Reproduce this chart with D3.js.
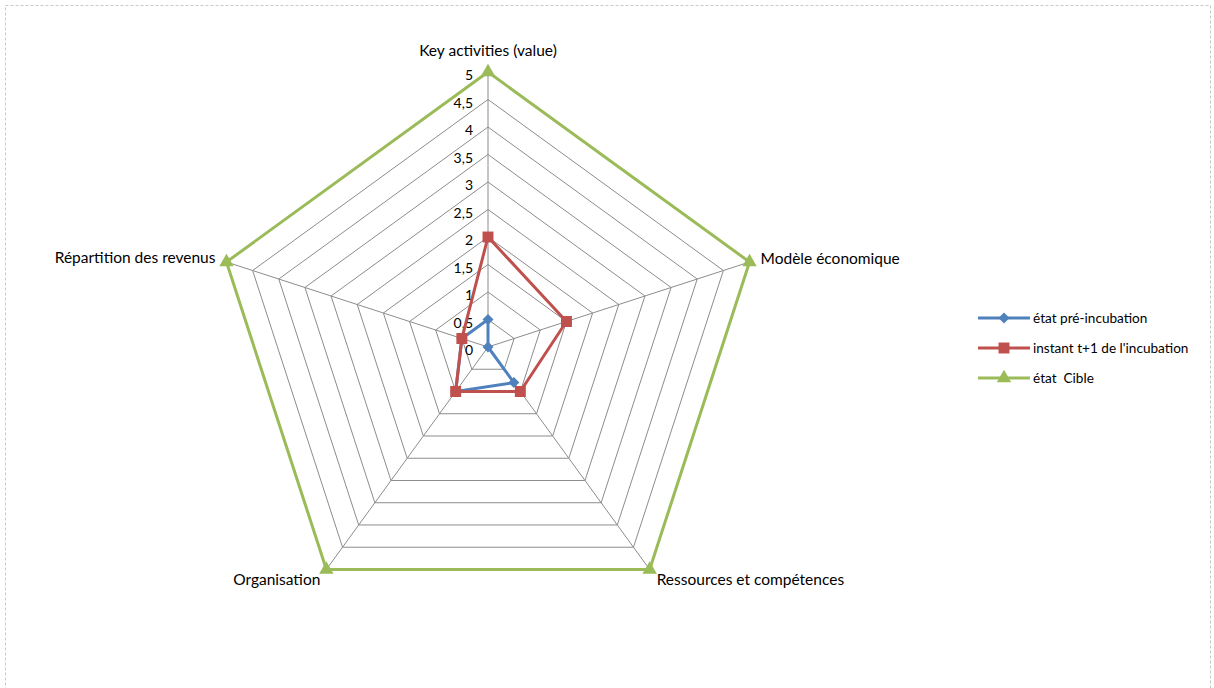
<!DOCTYPE html>
<html>
<head>
<meta charset="utf-8">
<script src="https://cdn.jsdelivr.net/npm/d3@7"></script>
<style>
  body { margin: 0; background: #fff; }
  svg { display: block; font-family: Lato, "Noto Sans", sans-serif; }
</style>
</head>
<body>
<svg id="chart" width="1214" height="688"></svg>
<script>
// axes, clockwise from the top
var axes = ['Key activities (value)', 'Modèle économique', 'Ressources et compétences', 'Organisation', 'Répartition des revenus'];
var ticks = [0, 0.5, 1, 1.5, 2, 2.5, 3, 3.5, 4, 4.5, 5];
var seriesNames = ['état pré-incubation', "instant t+1 de l'incubation", 'état  Cible'];
var preIncubation = [0.5, 0, 0.8, 1, 0.5];
var instantT1 = [2, 1.5, 1, 1, 0.5];
var cible = [5, 5, 5, 5, 5];

var colors = ['#4F81BD', '#C0504D', '#9BBB59'];
var shapes = [d3.symbolSquare, d3.symbolSquare, d3.symbolTriangle];
var sizes = [60, 120, 90];
var rotations = [45, 0, 0];

var svg = d3.select('#chart');
var cx = 488, cy = 347;

// dashed chart-area border
svg.append('rect')
  .attr('x', 5.5).attr('y', 5.5)
  .attr('width', 1205).attr('height', 690)
  .attr('fill', 'none')
  .attr('stroke', '#c8c8c8')
  .attr('stroke-dasharray', '3,2');

var r = d3.scaleLinear().domain([0, 5]).range([0, 275]);
var angle = d3.scaleLinear().domain([0, axes.length]).range([0, 2 * Math.PI]);

function pt(i, v) {
  var a = angle(i);
  return [cx + r(v) * Math.sin(a), cy - r(v) * Math.cos(a)];
}

var g = svg.append('g');

// rings
ticks.slice(1).forEach(function (t) {
  g.append('polygon')
    .attr('points', axes.map(function (d, i) { return pt(i, t).join(','); }).join(' '))
    .attr('fill', 'none')
    .attr('stroke', '#8c8c8c')
    .attr('stroke-width', 1);
});

// spokes
axes.forEach(function (d, i) {
  var p = pt(i, 5);
  g.append('line')
    .attr('x1', cx).attr('y1', cy)
    .attr('x2', p[0]).attr('y2', p[1])
    .attr('stroke', '#8c8c8c')
    .attr('stroke-width', 1);
});

// tick labels
g.selectAll('.tick').data(ticks).enter().append('text')
  .attr('x', cx - 15)
  .attr('y', function (d) { return cy - r(d) + 8; })
  .attr('text-anchor', 'end')
  .attr('font-size', 14)
  .attr('fill', '#000')
  .text(function (d) { return String(d).replace('.', ','); });

// axis labels
var labelPos = [
  { dx: 0, dy: -16, anchor: 'middle' },
  { dx: 11, dy: 2, anchor: 'start' },
  { dx: 7, dy: 16, anchor: 'start' },
  { dx: -6, dy: 16, anchor: 'end' },
  { dx: -11, dy: 1, anchor: 'end' }
];
axes.forEach(function (d, i) {
  var p = pt(i, 5);
  g.append('text')
    .attr('x', p[0] + labelPos[i].dx)
    .attr('y', p[1] + labelPos[i].dy)
    .attr('text-anchor', labelPos[i].anchor)
    .attr('font-size', 15.5)
    .attr('fill', '#000')
    .text(d);
});

function marker(sel, s, x, y) {
  sel.append('path')
    .attr('d', d3.symbol().type(shapes[s]).size(sizes[s])())
    .attr('transform', 'translate(' + x + ',' + y + ') rotate(' + rotations[s] + ')')
    .attr('fill', colors[s]);
}

// series
var line = d3.line().curve(d3.curveLinearClosed);
[preIncubation, instantT1, cible].forEach(function (vals, s) {
  var pts = vals.map(function (v, i) { return pt(i, v); });
  g.append('path')
    .attr('d', line(pts))
    .attr('fill', 'none')
    .attr('stroke', colors[s])
    .attr('stroke-width', 3)
    .attr('stroke-linejoin', 'round');
  pts.forEach(function (p) { marker(g, s, p[0], p[1]); });
});

// legend
var legend = svg.append('g').attr('transform', 'translate(978,318)');
seriesNames.forEach(function (n, s) {
  var row = legend.append('g').attr('transform', 'translate(0,' + s * 30 + ')');
  row.append('line').attr('x1', 0).attr('x2', 52).attr('y1', 0).attr('y2', 0)
    .attr('stroke', colors[s]).attr('stroke-width', 3);
  marker(row, s, 26, 0);
  row.append('text').attr('x', 55).attr('y', 5)
    .attr('font-size', 13.6).attr('fill', '#000')
    .attr('xml:space', 'preserve')
    .text(n);
});
</script>
</body>
</html>
